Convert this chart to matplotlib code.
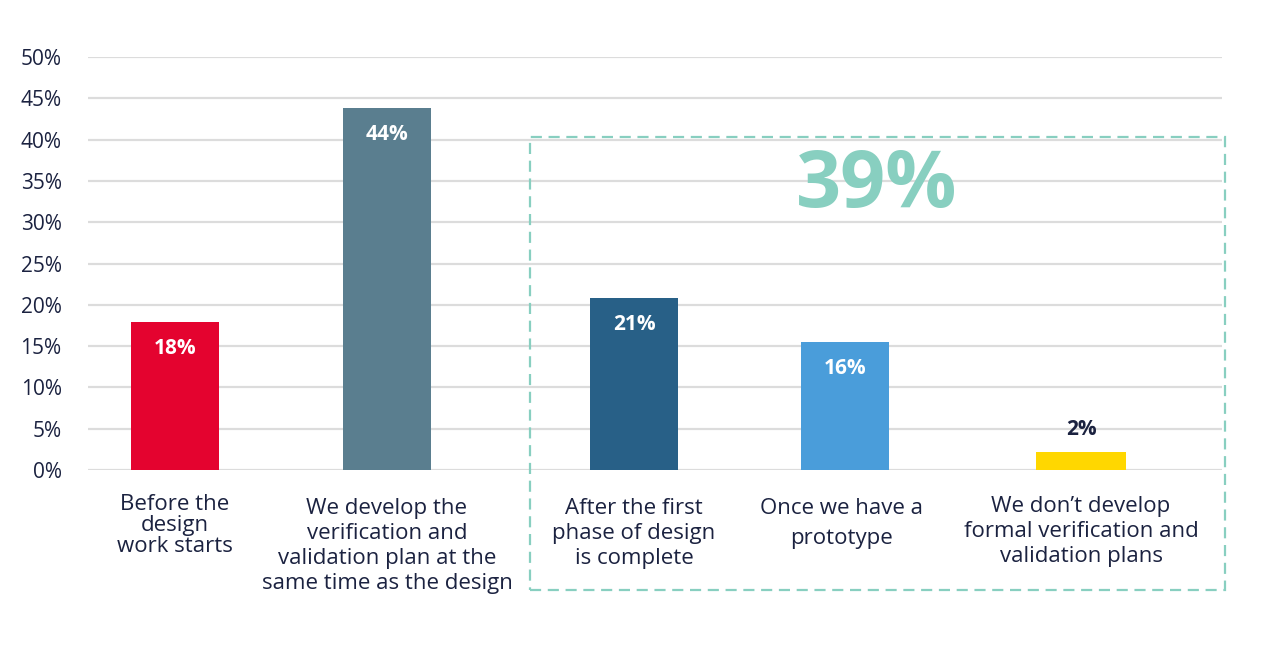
import matplotlib
matplotlib.use("Agg")
import matplotlib.pyplot as plt
from matplotlib.patches import Rectangle
from matplotlib.transforms import offset_copy

plt.rcParams['font.family'] = ['Open Sans', 'DejaVu Sans']

categories = [
    "Before the\ndesign\nwork starts",
    "We develop the\nverification and\nvalidation plan at the\nsame time as the design",
    "After the first\nphase of design\nis complete",
    "Once we have a\nprototype",
    "We don\u2019t develop\nformal verification and\nvalidation plans",
]
values = [17.9, 43.8, 20.8, 15.5, 2.2]
value_labels = ["18%", "44%", "21%", "16%", "2%"]
colors = ["#E4032F", "#5A7E8F", "#286087", "#4A9DDA", "#FFD700"]
yticks = [0, 5, 10, 15, 20, 25, 30, 35, 40, 45, 50]
ytick_labels = [f"{t}%" for t in yticks]
highlight_label = "39%"

# layout (axis units ~ pixels from the axis left edge)
positions = [87, 299, 546, 757, 993]
widths = [88, 88, 88, 88, 90]
label_x_shift = [0, 0, 0, -4, 0]
label_linespacing = [1.0, 1.25, 1.25, 1.55, 1.23]
label_offsets = [-17.5, -20.5, -20.5, -20.5, -19]

navy = "#1B2240"
W, H = 1280, 649
fig = plt.figure(figsize=(W / 100, H / 100), dpi=100)
ax = fig.add_axes([88 / W, 179 / H, (1222 - 88) / W, (470 - 57) / H])

ax.set_xlim(0, 1134)
ax.set_ylim(0, 50)
ax.set_yticks(yticks)
ax.set_yticklabels(ytick_labels, fontsize=15, color=navy)
ax.tick_params(axis='y', length=0, pad=19)
ax.set_xticks([])
ax.grid(axis='y', color="#DCDCDC", linewidth=1.6)
ax.set_axisbelow(True)
for s in ax.spines.values():
    s.set_visible(False)

bars = ax.bar(positions, values, width=widths, color=colors, zorder=3)

for i, (b, v, lab) in enumerate(zip(bars, values, value_labels)):
    cx = b.get_x() + b.get_width() / 2
    if v > 5:
        ax.annotate(lab, (cx, v), xytext=(0, -19), textcoords='offset points',
                    ha='center', va='center', fontsize=15, fontweight='bold',
                    color='white', zorder=4)
    else:
        ax.annotate(lab, (cx, v), xytext=(0, 16), textcoords='offset points',
                    ha='center', va='center', fontsize=15, fontweight='bold',
                    color=navy, zorder=4)

trans = ax.get_xaxis_transform()
for cat, x, dx, ls, off in zip(categories, positions, label_x_shift,
                               label_linespacing, label_offsets):
    t = offset_copy(trans, fig=fig, x=dx * 0.72, y=off, units='points')
    ax.text(x, 0, cat, transform=t, ha='center', va='top', fontsize=16,
            color=navy, linespacing=ls)

teal = "#88CFC0"
rect = Rectangle((530 / W, 1 - 590 / H), (1225 - 530) / W, (590 - 137) / H,
                 transform=fig.transFigure, fill=False, edgecolor=teal,
                 linewidth=1.6, linestyle=(0, (5, 3)), clip_on=False, zorder=5)
fig.patches.append(rect)
fig.text(877 / W, 1 - 186 / H, highlight_label, ha='center', va='center',
         fontsize=57, fontweight='bold', color=teal)

fig.savefig("out.png", dpi=100)
